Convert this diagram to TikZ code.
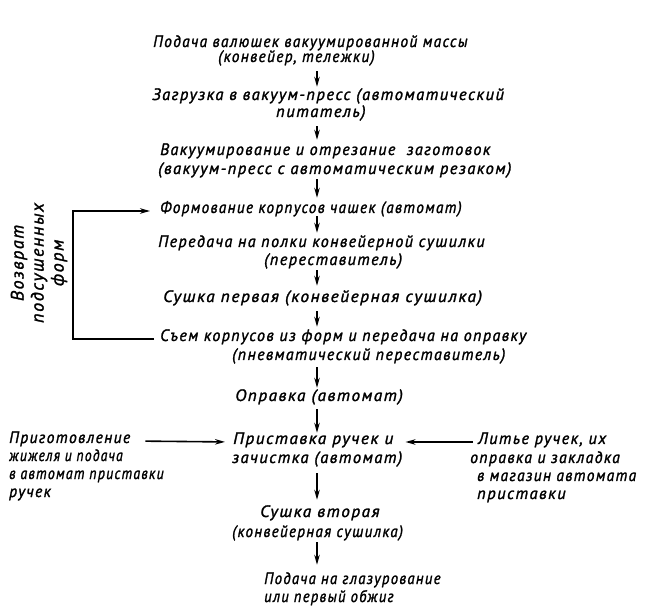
\documentclass[tikz,border=0pt]{standalone}
\usepackage{fontspec}
\newfontfamily\hand{PT Sans}[LetterSpace=9,FakeBold=1.6]
\usetikzlibrary{arrows.meta}
\newcommand\sx[2]{\scalebox{#1}[1]{#2}}
\tikzset{
  txt/.style={anchor=west, inner sep=0pt, text height=7pt, text depth=3pt, font=\hand\itshape\fontsize{16.5}{19}\selectfont},
  arr/.style={line width=1.6pt, -{Stealth[length=10pt,width=5.5pt]}},
}
\begin{document}
\begin{tikzpicture}[x=1pt,y=-1pt]
\useasboundingbox (0,0) rectangle (670,612);
\coordinate (T) at (317,0);
\coordinate (BR) at (73,0);
% main column
\node[txt] (a1) at (153,45) {\sx{0.93}{Подача валюшек вакуумированной массы}};
\node[txt] (a2) at (218,60) {\sx{0.93}{(конвейер, тележки)}};
\node[txt] (b1) at (152,98) {Загрузка в вакуум-пресс (автоматический};
\node[txt] (b2) at (276,115) {питатель)};
\node[txt] (c1) at (160,153) {\sx{0.97}{Вакуумирование и отрезание\hspace{6pt} заготовок}};
\node[txt] (c2) at (158,172) {(вакуум-пресс с автоматическим резаком)};
\node[txt] (d1) at (160,211) {\sx{0.92}{Формование корпусов чашек (автомат)}};
\node[txt] (e1) at (158,245) {\sx{0.97}{Передача на полки конвейерной сушилки}};
\node[txt] (e2) at (264,263) {\sx{0.98}{(переставитель)}};
\node[txt] (f1) at (163,300) {\sx{1.05}{Сушка первая (конвейерная сушилка)}};
\node[txt] (g1) at (160,339) {\sx{0.97}{Съем корпусов из форм и передача на оправку}};
\node[txt] (g2) at (232,358) {\sx{0.96}{(пневматический переставитель)}};
\node[txt] (h1) at (235,399) {\sx{1.04}{Оправка (автомат)}};
\node[txt] (i1) at (233,442) {\sx{1.04}{Приставка ручек и}};
\node[txt] (i2) at (232,461) {зачистка (автомат)};
\node[txt] (j1) at (260,515) {\sx{1.04}{Сушка вторая}};
\node[txt] (j2) at (232,535) {\sx{0.91}{(конвейерная сушилка)}};
\node[txt] (k1) at (264,582) {\sx{0.89}{Подача на глазурование}};
\node[txt] (k2) at (264,600) {\sx{0.88}{или первый обжиг}};
% left block
\node[txt] (l1) at (9,441) {\sx{0.94}{Приготовление}};
\node[txt] (l2) at (9,459) {\sx{0.82}{жижеля и подача}};
\node[txt] (l3) at (9,477) {\sx{0.84}{в автомат приставки}};
\node[txt] (l4) at (9,495) {\sx{0.94}{ручек}};
% right block
\node[txt] (r1) at (478,442) {\sx{0.98}{Литье ручек, их}};
\node[txt] (r2) at (470,461) {\sx{0.95}{оправка и закладка}};
\node[txt] (r3) at (477,479) {\sx{0.93}{в магазин автомата}};
\node[txt] (r4) at (477,497) {приставки};
% rotated label
\node[inner sep=0pt, rotate=90, align=center, font=\hand\itshape\fontsize{18}{20}\selectfont] (ret) at (39,263) {Возврат\\подсушенных\\форм};
% vertical arrows
\draw[arr, shorten <=6pt, shorten >=6pt] (a2.south -| T) -- (b1.north -| T);
\draw[arr, shorten <=6pt, shorten >=8pt] (b2.south -| T) -- (c1.north -| T);
\draw[arr, shorten <=2pt, shorten >=8pt] (c2.south -| T) -- (d1.north -| T);
\draw[arr, shorten <=0pt, shorten >=7pt] (d1.south -| T) -- (e1.north -| T);
\draw[arr, shorten <=2pt, shorten >=9pt] (e2.south -| T) -- (f1.north -| T);
\draw[arr, shorten <=6pt, shorten >=7pt] (f1.south -| T) -- (g1.north -| T);
\draw[arr, shorten <=4pt, shorten >=6pt] (g2.south -| T) -- (h1.north -| T);
\draw[arr, shorten <=5pt, shorten >=4pt] (h1.south -| T) -- (i1.north -| T);
\draw[arr, shorten <=7pt, shorten >=10pt] (i2.south -| T) -- (j1.north -| T);
\draw[arr, shorten <=2pt, shorten >=12pt] (j2.south -| T) -- (k1.north -| T);
% horizontal arrows
\draw[arr, shorten <=15pt, shorten >=8pt] (l1.east) -- (i1.west);
\draw[arr, shorten <=5pt, shorten >=12pt] (r1.west) -- (i1.east);
% return bracket
\draw[arr, shorten <=6pt, shorten >=10pt] (g1.west) -- (g1.west -| BR) -- (d1.west -| BR) -- (d1.west);
\end{tikzpicture}
\end{document}
